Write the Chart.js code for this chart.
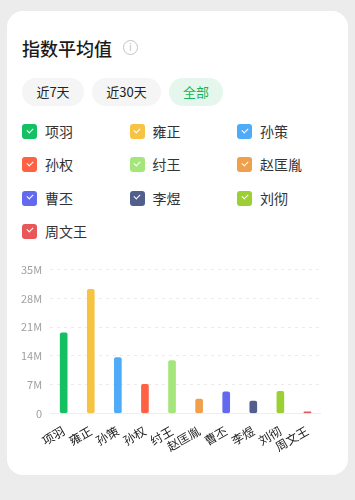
<!DOCTYPE html>
<html>
<head>
<meta charset="utf-8">
<script src="https://cdn.jsdelivr.net/npm/chart.js@4.4.1/dist/chart.umd.min.js"></script>
<style>
  html, body { margin: 0; padding: 0; }
  body { width: 355px; height: 500px; background: #ececec; position: relative; overflow: hidden;
    font-family: "Noto Sans CJK SC", "Noto Sans", sans-serif; }
  .card { position: absolute; left: 7px; top: 11px; width: 341px; height: 464px; background: #fff; border-radius: 16px; }
  .title { position: absolute; left: 22px; top: 35px; font-size: 18px; font-weight: 500; color: #1a1a1a; line-height: 26px; }
  .info { position: absolute; left: 123px; top: 40px; width: 13px; height: 13px; border: 1.3px solid #c4c4c4; border-radius: 50%;
    color: #c4c4c4; font-size: 10px; line-height: 13px; text-align: center; font-family: "DejaVu Sans", sans-serif; }
  .btn { position: absolute; top: 78px; height: 28px; line-height: 28px; border-radius: 14px; background: #f5f5f5;
    font-size: 13px; color: #222; text-align: center; }
  .btn.on { background: #e5f7ec; color: #18b35a; }
  .lg { position: absolute; font-size: 14px; color: #333; line-height: 16px; }
  .lg i { position: absolute; left: 0; top: 0; width: 15px; height: 15px; border-radius: 3px; }
  .lg i::after { content: ""; position: absolute; left: 4.5px; top: 3.5px; width: 5px; height: 3px;
    border-left: 1.3px solid #fff; border-bottom: 1.3px solid #fff; transform: rotate(-45deg); }
  .lg span { position: absolute; left: 23px; top: -1px; white-space: nowrap; }
  #wrap { position: absolute; left: 13px; top: 255px; width: 308px; height: 201px; }
</style>
</head>
<body>
<div class="card"></div>
<div class="title">指数平均值</div>
<div class="info">i</div>
<div class="btn" style="left:22px;width:62px;">近7天</div>
<div class="btn" style="left:92px;width:69px;">近30天</div>
<div class="btn on" style="left:169px;width:54px;">全部</div>
<div id="legend"></div>
<div id="wrap"><canvas id="c"></canvas></div>
<script>
const names = ['项羽', '雍正', '孙策', '孙权', '纣王', '赵匡胤', '曹丕', '李煜', '刘彻', '周文王'];
const averages = [19.6e6, 30.2e6, 13.6e6, 7.1e6, 12.9e6, 3.5e6, 5.3e6, 3.0e6, 5.4e6, 0.4e6];
const colors = ['#13c162', '#f6c343', '#4dabf7', '#ff6145', '#a5e67c', '#f0a04b', '#6369ee', '#525f8c', '#9ccf34', '#e95858'];

// legend boxes, three per row
const legend = document.getElementById('legend');
names.forEach((n, i) => {
  const d = document.createElement('div');
  d.className = 'lg';
  d.style.left = (22 + (i % 3) * 107.5) + 'px';
  d.style.top = (124 + Math.floor(i / 3) * 33.3) + 'px';
  d.innerHTML = '<i style="background:' + colors[i] + '"></i><span>' + n + '</span>';
  legend.appendChild(d);
});

const chart = new Chart(document.getElementById('c'), {
  type: 'bar',
  data: {
    labels: names,
    datasets: [{
      data: averages,
      backgroundColor: colors,
      barThickness: 7,
      borderRadius: 2,
      borderSkipped: false,
    }],
  },
  options: {
    responsive: true,
    maintainAspectRatio: false,
    animation: false,
    layout: { padding: { left: 0, right: 0, top: 4, bottom: 0 } },
    plugins: { legend: { display: false }, tooltip: { enabled: false } },
    scales: {
      x: {
        grid: { display: false },
        border: { display: true, color: '#eeeeee' },
        ticks: {
          color: '#222',
          font: { size: 12, family: '"Noto Sans CJK SC"' },
          autoSkip: false,
          minRotation: 30,
          maxRotation: 30,
          padding: 2,
        },
      },
      y: {
        min: 0,
        max: 35e6,
        border: { display: false, dash: [3, 4] },
        grid: { color: '#ebebeb', drawTicks: false },
        ticks: {
          stepSize: 7e6,
          color: '#a0a0a0',
          padding: 8,
          font: { size: 11, family: '"Noto Sans CJK SC"' },
          callback: (v) => (v === 0 ? '0' : v / 1e6 + 'M'),
        },
      },
    },
  },
});
</script>
</body>
</html>
